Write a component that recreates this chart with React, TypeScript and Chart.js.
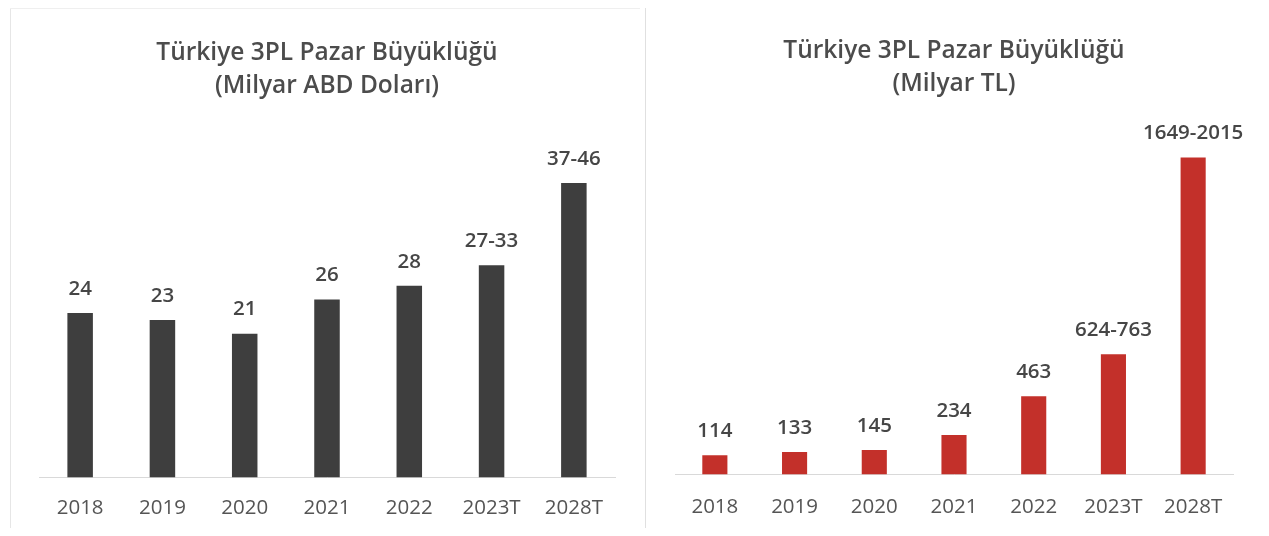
import React, { useEffect, useRef } from "react";
import { Chart, registerables } from "chart.js";

Chart.register(...registerables);

const categories = ["2018", "2019", "2020", "2021", "2022", "2023T", "2028T"];
const usdValues = [24, 23, 21, 26, 28, 31, 43];
const usdLabels = ["24", "23", "21", "26", "28", "27-33", "37-46"];
const tlValues = [114, 133, 145, 234, 463, 712, 1880];
const tlLabels = ["114", "133", "145", "234", "463", "624-763", "1649-2015"];
const usdTitle = ["Türkiye 3PL Pazar Büyüklüğü", "(Milyar ABD Doları)"];
const tlTitle = ["Türkiye 3PL Pazar Büyüklüğü", "(Milyar TL)"];

const FONT = "'Open Sans', 'DejaVu Sans', sans-serif";

const valueLabelPlugin = {
  id: "valueLabels",
  afterDatasetsDraw(chart: any, _args: any, opts: any) {
    const ctx = chart.ctx;
    const meta = chart.getDatasetMeta(0);
    const labels: string[] = opts.labels || [];
    ctx.save();
    ctx.font = `600 20.5px ${FONT}`;
    ctx.fillStyle = "#464646";
    ctx.textAlign = "center";
    ctx.textBaseline = "middle";
    meta.data.forEach((bar: any, i: number) => {
      ctx.fillText(labels[i], bar.x, bar.y - 24);
    });
    ctx.restore();
  },
};

interface PanelProps {
  title: string[];
  values: number[];
  labels: string[];
  color: string;
  yMax: number;
  pad: { left: number; right: number; bottom: number };
  titlePad: { top: number; bottom: number };
  tickPad: number;
  barPct: number;
}

function Panel(props: PanelProps) {
  const ref = useRef<HTMLCanvasElement>(null);
  useEffect(() => {
    if (!ref.current) return;
    const chart = new Chart(ref.current, {
      type: "bar",
      data: {
        labels: categories,
        datasets: [
          {
            data: props.values,
            backgroundColor: props.color,
            categoryPercentage: 1,
            barPercentage: props.barPct,
          },
        ],
      },
      plugins: [valueLabelPlugin],
      options: {
        animation: false,
        responsive: true,
        maintainAspectRatio: false,
        layout: {
          padding: { top: 0, left: props.pad.left, right: props.pad.right, bottom: props.pad.bottom },
        },
        plugins: {
          legend: { display: false },
          tooltip: { enabled: false },
          title: {
            display: true,
            text: props.title,
            color: "#4c4c4c",
            font: { family: FONT, size: 24.5, weight: "600" as any, lineHeight: 1.35 },
            padding: props.titlePad,
          },
          valueLabels: { labels: props.labels },
        } as any,
        scales: {
          x: {
            grid: { display: false, drawTicks: false, tickLength: 0 },
            border: { display: true, color: "#d9d9d9", width: 1 },
            ticks: {
              color: "#555555",
              font: { family: FONT, size: 20.5 },
              padding: props.tickPad,
              maxRotation: 0,
              autoSkip: false,
            },
          },
          y: {
            display: false,
            min: 0,
            max: props.yMax,
          },
        },
      },
    });
    return () => chart.destroy();
  }, []);
  return <canvas ref={ref} />;
}

export default function App() {
  return (
    <div style={{ position: "relative", width: 1254, height: 520, background: "#fff", overflow: "hidden" }}>
      <div style={{ position: "absolute", left: 0, top: 0, width: 637, height: 540 }}>
        <Panel
          title={usdTitle}
          values={usdValues}
          labels={usdLabels}
          color="#3e3e3e"
          yMax={50}
          pad={{ left: 31, right: 30, bottom: 9 }}
          titlePad={{ top: 28, bottom: 33 }}
          tickPad={18.5}
          barPct={0.31}
        />
      </div>
      <div style={{ position: "absolute", left: 637, top: 0, width: 617, height: 540 }}>
        <Panel
          title={tlTitle}
          values={tlValues}
          labels={tlLabels}
          color="#c3302a"
          yMax={2000}
          pad={{ left: 30, right: 29, bottom: 8 }}
          titlePad={{ top: 26, bottom: 37 }}
          tickPad={20.5}
          barPct={0.315}
        />
      </div>
      <div style={{ position: "absolute", left: 2, top: 0, width: 1, height: 520, background: "#e6e6e6" }} />
      <div style={{ position: "absolute", left: 2, top: 0, width: 630, height: 1, background: "#efefef" }} />
      <div style={{ position: "absolute", left: 637, top: 0, width: 1, height: 520, background: "#e0e0e0" }} />
      <div style={{ position: "absolute", left: 1253, top: 10, width: 1, height: 510, background: "#e8e8e8" }} />
    </div>
  );
}
